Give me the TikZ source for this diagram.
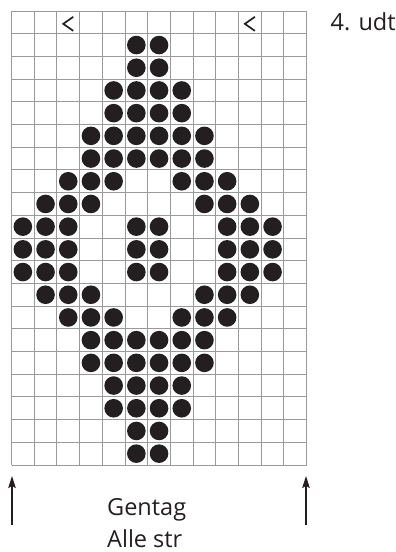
\documentclass[tikz,border=0pt]{standalone}
\usepackage{fontspec}
\setmainfont{Open Sans}
\usetikzlibrary{arrows.meta}
\definecolor{ink}{HTML}{231F20}
\definecolor{gridgray}{HTML}{9A9A9A}
\tikzset{
  gridline/.style={draw=gridgray, line width=1pt},
  dot/.style={fill=ink},
  chevron/.style={draw=ink, line width=1.7pt, line cap=butt, line join=miter},
  upmark/.style={draw=ink, line width=1.2pt, -{Stealth[length=12pt,width=7.5pt,inset=2pt]}},
  label/.style={inner sep=0pt, anchor=base west, text=ink, font=\fontsize{23.5}{30}\selectfont}
}
\newcommand{\cw}{22.7}
\begin{document}
\begin{tikzpicture}[x=1pt,y=-1pt]
\useasboundingbox[fill=white] (0,0) rectangle (396,552);
% grid
\foreach \i in {0,...,13} {
  \draw[gridline] ({11.5+\i*\cw},11) -- ({11.5+\i*\cw},{11+20*\cw});
}
\foreach \j in {0,...,20} {
  \draw[gridline] (11.5,{11+\j*\cw}) -- ({11.5+13*\cw},{11+\j*\cw});
}
% dots: row / list of columns
\foreach \r/\cols in {
  2/{6,7}, 3/{6,7},
  4/{5,6,7,8}, 5/{5,6,7,8},
  6/{4,5,6,7,8,9}, 7/{4,5,6,7,8,9},
  8/{3,4,5,8,9,10}, 9/{2,3,4,9,10,11},
  10/{1,2,3,6,7,10,11,12}, 11/{1,2,3,6,7,10,11,12}, 12/{1,2,3,6,7,10,11,12},
  13/{2,3,4,9,10,11}, 14/{3,4,5,8,9,10},
  15/{4,5,6,7,8,9}, 16/{4,5,6,7,8,9},
  17/{5,6,7,8}, 18/{5,6,7,8},
  19/{6,7}, 20/{6,7}} {
  \foreach \c in \cols {
    \fill[dot] ({11.5+(\c-0.5)*\cw},{11+(\r-0.5)*\cw}) circle (9.3);
  }
}
% chevrons in row 1
\foreach \c in {3,11} {
  \draw[chevron] ({11.5+(\c-0.5)*\cw+5},{11+0.5*\cw-5.5}) -- ({11.5+(\c-0.5)*\cw-5},{11+0.5*\cw+1.5}) -- ({11.5+(\c-0.5)*\cw+5},{11+0.5*\cw+8.5});
}
% labels
\node[label] (udt) at (330.5,30) {4. udt};
\node[label] (gentag) at (107,515) {Gentag};
\node[label] (alle) at (107,547) {Alle str};
% arrows
\coordinate (la) at (12,525);
\coordinate (lt) at (12,476);
\coordinate (ra) at (306,525);
\coordinate (rt) at (306,476);
\draw[upmark] (la) -- (lt);
\draw[upmark] (ra) -- (rt);
\end{tikzpicture}
\end{document}
